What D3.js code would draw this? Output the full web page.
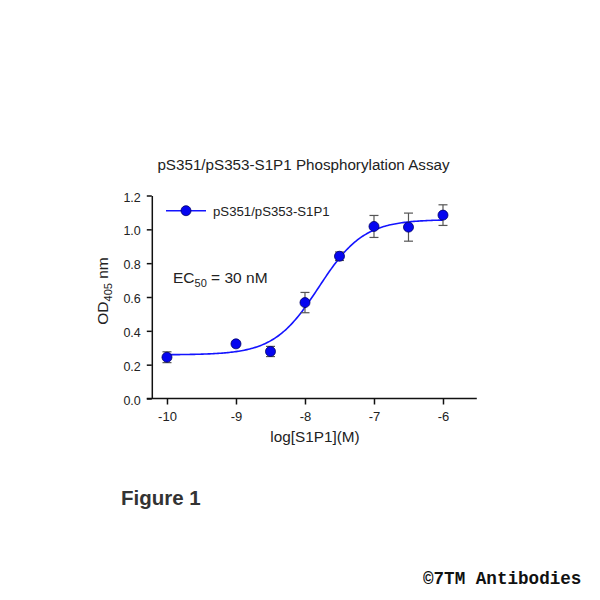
<!DOCTYPE html>
<html>
<head>
<meta charset="utf-8">
<script src="https://cdn.jsdelivr.net/npm/d3@7/dist/d3.min.js"></script>
<style>
  html, body { margin: 0; padding: 0; background: #fff; }
  svg { display: block; }
  text { font-family: "Liberation Sans", Arial, sans-serif; fill: #222; }
</style>
</head>
<body>
<svg id="chart" width="600" height="600"></svg>
<script>
// ---- data ----
const logConc = [-10, -9, -8.5, -8, -7.5, -7, -6.5, -6];
const odMean  = [0.244, 0.323, 0.278, 0.567, 0.841, 1.017, 1.013, 1.084];
const odErr   = [0.032, 0, 0.030, 0.060, 0.025, 0.065, 0.083, 0.061];
// fitted 4-parameter logistic
const fitBottom = 0.258;
const fitTop = 1.058;
const fitLogEC50 = -7.80;
const fitHill = 1.34;
const xTicks = [-10, -9, -8, -7, -6];
const xTickLabels = ["-10", "-9", "-8", "-7", "-6"];
const yTicks = [0, 0.2, 0.4, 0.6, 0.8, 1.0, 1.2];
const yTickLabels = ["0.0", "0.2", "0.4", "0.6", "0.8", "1.0", "1.2"];
const seriesName = "pS351/pS353-S1P1";

const svg = d3.select("#chart");
const x = d3.scaleLinear().domain([-10.22, -5.51]).range([151.8, 476.8]);
const y = d3.scaleLinear().domain([0, 1.2]).range([398.5, 195.5]);

// title
svg.append("text").attr("x", 303.5).attr("y", 170).attr("text-anchor", "middle")
  .style("font-size", "15.2px").text("pS351/pS353-S1P1 Phosphorylation Assay");

// axes
const xAxis = svg.append("g").attr("transform", `translate(0,${y(0)})`)
  .call(d3.axisBottom(x).tickValues(xTicks).tickFormat((d, i) => xTickLabels[i])
    .tickSize(6).tickSizeOuter(0).tickPadding(7.5));
const yAxis = svg.append("g").attr("transform", `translate(${x.range()[0]},0)`)
  .call(d3.axisLeft(y).tickValues(yTicks).tickFormat((d, i) => yTickLabels[i])
    .tickSize(5).tickSizeOuter(0).tickPadding(6));
[xAxis, yAxis].forEach(g => {
  g.select(".domain").attr("stroke", "#111").attr("stroke-width", 1.5);
  g.selectAll(".tick line").attr("stroke", "#111").attr("stroke-width", 1.5);
  g.selectAll(".tick text").style("font-family", "'Liberation Sans', Arial, sans-serif").attr("fill", "#222");
});
xAxis.selectAll(".tick text").style("font-size", "13px");
yAxis.selectAll(".tick text").style("font-size", "12.5px").attr("dy", "0.45em");
xAxis.select(".domain").attr("d", `M${x.range()[0]-5},0H${x.range()[1]}`);

// axis labels
svg.append("text").attr("x", 315).attr("y", 442).attr("text-anchor", "middle")
  .style("font-size", "15.3px").text("log[S1P1](M)");
const yl = svg.append("text").attr("transform", "translate(108,291) rotate(-90)")
  .attr("text-anchor", "middle").style("font-size", "15.5px");
yl.append("tspan").text("OD");
yl.append("tspan").attr("dy", 4).style("font-size", "11px").text("405");
yl.append("tspan").attr("dy", -4).text(" nm");

// fitted curve
const curveX = d3.range(-10, -5.999, 0.02);
const fit = v => fitBottom + (fitTop - fitBottom) / (1 + Math.pow(10, (fitLogEC50 - v) * fitHill));
svg.append("path")
  .datum(curveX)
  .attr("fill", "none").attr("stroke", "#1414ff").attr("stroke-width", 1.6)
  .attr("d", d3.line().x(d => x(d)).y(d => y(fit(d))));

// error bars
const pts = logConc.map((c, i) => ({c, m: odMean[i], e: odErr[i]}));
const eb = svg.append("g").attr("stroke", "#555").attr("stroke-width", 1.2);
pts.filter(p => p.e > 0).forEach(p => {
  eb.append("line").attr("x1", x(p.c)).attr("x2", x(p.c)).attr("y1", y(p.m - p.e)).attr("y2", y(p.m + p.e));
  [p.m - p.e, p.m + p.e].forEach(v => {
    eb.append("line").attr("x1", x(p.c) - 4.5).attr("x2", x(p.c) + 4.5).attr("y1", y(v)).attr("y2", y(v));
  });
});

// points
svg.append("g").selectAll("circle").data(pts).join("circle")
  .attr("cx", d => x(d.c)).attr("cy", d => y(d.m)).attr("r", 5)
  .attr("fill", "#0505f0").attr("stroke", "#000066").attr("stroke-width", 0.8);

// legend
const lg = svg.append("g");
lg.append("line").attr("x1", 166).attr("x2", 206).attr("y1", 210.7).attr("y2", 210.7)
  .attr("stroke", "#1414ff").attr("stroke-width", 1.6);
lg.append("circle").attr("cx", 186).attr("cy", 210.7).attr("r", 5)
  .attr("fill", "#0505f0").attr("stroke", "#000066").attr("stroke-width", 0.8);
lg.append("text").attr("x", 213).attr("y", 215.5).style("font-size", "13.2px").text(seriesName);

// EC50 annotation
const ec = svg.append("text").attr("x", 173).attr("y", 283).style("font-size", "15.5px");
ec.append("tspan").text("EC");
ec.append("tspan").attr("dy", 4).style("font-size", "11px").text("50");
ec.append("tspan").attr("dy", -4).text(" = 30 nM");

// figure caption
svg.append("text").attr("x", 121).attr("y", 505).style("font-size", "20.5px").style("font-weight", "bold")
  .style("fill", "#333").text("Figure 1");

// copyright
svg.append("text").attr("x", 423).attr("y", 584)
  .style("font-family", "'Liberation Mono', 'Courier New', monospace").style("font-weight", "bold")
  .style("font-size", "17.6px").style("fill", "#111").text("©7TM Antibodies");
</script>
</body>
</html>
